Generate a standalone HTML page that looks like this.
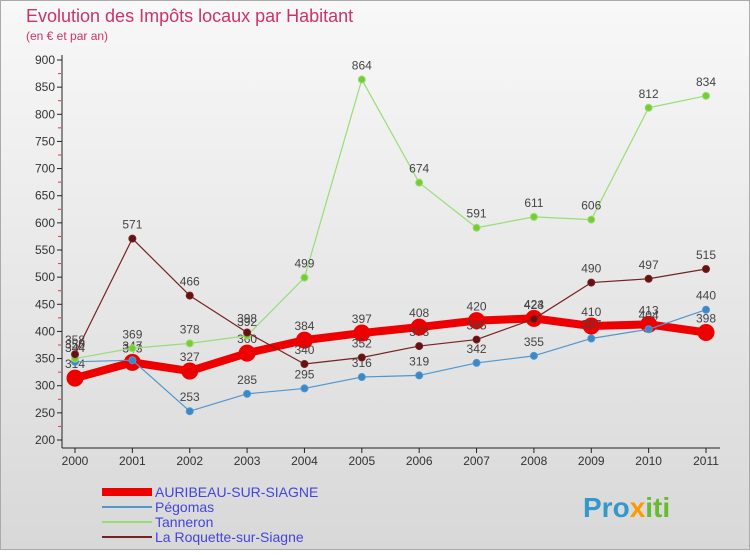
<!DOCTYPE html>
<html><head><meta charset="utf-8"><style>
body{margin:0;width:750px;height:550px;overflow:hidden;font-family:"Liberation Sans",sans-serif}
svg text{font-family:"Liberation Sans",sans-serif}
</style></head><body>
<svg id="c" width="750" height="550">
<defs><linearGradient id="bg" x1="0" y1="0" x2="0" y2="1"><stop offset="0" stop-color="#f8f8f8"/><stop offset="1" stop-color="#d8d8d8"/></linearGradient></defs>
<rect x="0.5" y="0.5" width="749" height="549" fill="url(#bg)" stroke="#aaa"/>
<text x="26" y="22" font-size="18" fill="#cc3366">Evolution des Impôts locaux par Habitant</text>
<text x="26" y="40" font-size="12" fill="#cc3366">(en € et par an)</text>
<g id="axes"></g><g id="series"></g><g id="legend"></g>
<text x="583" y="517" font-size="28" font-weight="bold" fill="#3399cc">Pro<tspan fill="#ff9900">x</tspan><tspan fill="#66bb33">iti</tspan></text>
</svg>
<script>
const years=[2000,2001,2002,2003,2004,2005,2006,2007,2008,2009,2010,2011];
const yTicks=[200,250,300,350,400,450,500,550,600,650,700,750,800,850,900];
const auribeau=[314,343,327,360,384,397,408,420,424,410,413,398];
const pegomas=[344,347,253,285,295,316,319,342,355,387,404,440];
const tanneron=[350,369,378,392,499,864,674,591,611,606,812,834];
const roquette=[358,571,466,398,340,352,373,385,423,490,497,515];
const NS='http://www.w3.org/2000/svg';
const X=i=>75+i*(706-75)/(years.length-1);
const Y=v=>440-(v-200)*380/700;
function mk(t,a,p){const e=document.createElementNS(NS,t);for(const k in a)e.setAttribute(k,a[k]);p.appendChild(e);return e;}
const ax=document.getElementById('axes');
const yl=mk('line',{x1:62,y1:55,x2:62,y2:448,stroke:'#222'},ax);


const xl=mk('line',{x1:62,y1:448,x2:720,y2:448,stroke:'#222'},ax);


yTicks.forEach(v=>{const y=Y(v);
mk('line',{x1:57,y1:y,x2:62,y2:y,stroke:'#222'},ax);
if(v<900)mk('line',{x1:58,y1:Y(v+25),x2:61,y2:Y(v+25),stroke:'#e33'},ax);
const t=mk('text',{x:55,y:y+4,'font-size':12,'text-anchor':'end',fill:'#333'},ax);t.textContent=v;

});
years.forEach((yr,i)=>{const x=X(i);
mk('line',{x1:x,y1:448,x2:x,y2:453,stroke:'#222'},ax);
const t=mk('text',{x:x,y:465,'font-size':12,'text-anchor':'middle',fill:'#333'},ax);t.textContent=yr;

});
const sg=document.getElementById('series');
function series(vals,color,w,r,dot,name){const g=mk('g',{},sg);


mk('polyline',{points:vals.map((v,i)=>X(i)+','+Y(v)).join(' '),fill:'none',stroke:color,'stroke-width':w,'stroke-linejoin':'round'},g);
vals.forEach((v,i)=>{const c=mk('circle',{cx:X(i),cy:Y(v),r:r,fill:dot,stroke:color,'stroke-width':1},g);


const t=mk('text',{x:X(i),y:Y(v)-10,'font-size':12,'text-anchor':'middle',fill:'#444'},g);t.textContent=v;});}
series(auribeau,'#ee0000',8,8,'#ee0000','series-auribeau');
series(pegomas,'#4f97d0',1.2,3.5,'#3b87c8','series-pegomas');
series(tanneron,'#99dd77',1.2,3.5,'#77cc33','series-tanneron');
series(roquette,'#772222',1.2,3.5,'#661111','series-roquette');
const lg=document.getElementById('legend');
[['AURIBEAU-SUR-SIAGNE','#ee0000',8],['Pégomas','#4f97d0',2],['Tanneron','#99dd77',2],['La Roquette-sur-Siagne','#772222',2]].forEach((d,i)=>{
const y=492+i*15;const g=mk('g',{},lg);


mk('line',{x1:102,y1:y,x2:152,y2:y,stroke:d[1],'stroke-width':d[2]},g);
const t=mk('text',{x:155,y:y+5,'font-size':14,fill:'#4444dd'},g);t.textContent=d[0];});
</script>
</body></html>
